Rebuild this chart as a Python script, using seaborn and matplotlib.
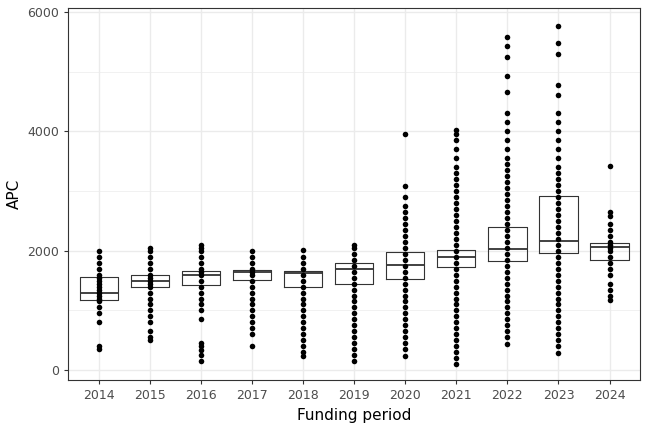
import matplotlib
matplotlib.use("Agg")
import matplotlib.pyplot as plt
import seaborn as sns
import pandas as pd

years = ["2014","2015","2016","2017","2018","2019","2020","2021","2022","2023","2024"]
q1  = [1170,1400,1430,1510,1400,1450,1530,1720,1820,1970,1840]
med = [1300,1490,1600,1650,1630,1700,1760,1900,2030,2170,2060]
q3  = [1560,1600,1660,1680,1660,1790,1980,2020,2390,2910,2130]

points = {
 "2014":[350,400,800,950,1050,1150,1200,1250,1300,1350,1400,1450,1500,1550,1600,1700,1800,1900,2000],
 "2015":[500,560,650,800,900,1000,1100,1200,1300,1400,1450,1500,1550,1600,1700,1800,1900,2000,2050],
 "2016":[150,250,330,400,450,850,1000,1100,1200,1300,1400,1500,1600,1650,1700,1800,1900,2000,2050,2100],
 "2017":[400,600,700,800,900,1000,1100,1200,1300,1400,1500,1600,1650,1700,1800,1900,2000],
 "2018":[230,300,400,500,600,700,800,900,1000,1100,1200,1300,1400,1500,1600,1700,1800,1900,2020],
 "2019":[150,250,350,450,550,650,750,850,950,1050,1150,1250,1350,1450,1550,1650,1750,1850,1950,2050,2100],
 "2020":[230,350,450,550,650,750,850,950,1050,1150,1250,1350,1450,1550,1650,1750,1850,1950,2050,2150,2250,2350,2450,2550,2650,2750,2900,3080,3950],
 "2021":[100,200,300,400,500,600,700,800,900,1000,1100,1200,1300,1400,1500,1600,1700,1800,1900,2000,2100,2200,2300,2400,2500,2600,2700,2800,2900,3000,3100,3200,3300,3400,3550,3700,3850,3950,4020],
 "2022":[430,550,650,750,850,950,1050,1150,1250,1350,1450,1550,1650,1750,1850,1950,2050,2150,2250,2350,2450,2550,2650,2750,2850,2950,3050,3150,3250,3350,3450,3550,3700,3850,4000,4150,4300,4650,4920,5250,5420,5580],
 "2023":[280,400,500,600,700,800,900,1000,1100,1200,1300,1400,1500,1600,1700,1800,1900,2000,2100,2200,2300,2400,2500,2600,2700,2800,2900,3000,3100,3200,3300,3400,3550,3700,3850,4000,4150,4300,4600,4770,5300,5480,5770],
 "2024":[1170,1250,1350,1450,1600,1700,1800,1900,2000,2050,2100,2150,2250,2350,2450,2580,2650,3420],
}

rows = [(y, v) for y in years for v in points[y]]
df = pd.DataFrame(rows, columns=["year", "APC"])

fig, ax = plt.subplots(figsize=(6.48, 4.32), dpi=100)
fig.subplots_adjust(left=0.105, right=0.988, top=0.982, bottom=0.12)

stats = []
for i, y in enumerate(years):
    stats.append(dict(med=med[i], q1=q1[i], q3=q3[i], whislo=q1[i], whishi=q3[i], fliers=[]))
ax.bxp(stats, positions=range(len(years)), widths=0.75, showfliers=False,
       boxprops=dict(color="#333333", linewidth=0.8),
       medianprops=dict(color="#333333", linewidth=1.3),
       whiskerprops=dict(linewidth=0),
       capprops=dict(linewidth=0), zorder=2)
sns.stripplot(data=df, x="year", y="APC", order=years, jitter=False, color="black",
              size=4, linewidth=0, ax=ax, zorder=3)

ax.set_xlim(-0.6, len(years)-0.4)
ax.set_ylim(-167, 6067)
ax.set_yticks([0, 2000, 4000, 6000])
ax.set_yticks([1000, 3000, 5000], minor=True)
ax.set_xticks(range(len(years)))
ax.set_xticklabels(years)
ax.grid(True, which="major", color="#ebebeb", linewidth=1.0)
ax.grid(True, which="minor", axis="y", color="#ebebeb", linewidth=0.5)
ax.set_axisbelow(True)
for s in ax.spines.values():
    s.set_color("#333333"); s.set_linewidth(0.8)
ax.tick_params(axis="both", which="major", colors="#333333", labelcolor="#4d4d4d", labelsize=9, length=3)
ax.tick_params(axis="y", which="minor", length=0)
ax.set_xlabel("Funding period", fontsize=11)
ax.set_ylabel("APC", fontsize=11)
fig.savefig("out.png", dpi=100)
